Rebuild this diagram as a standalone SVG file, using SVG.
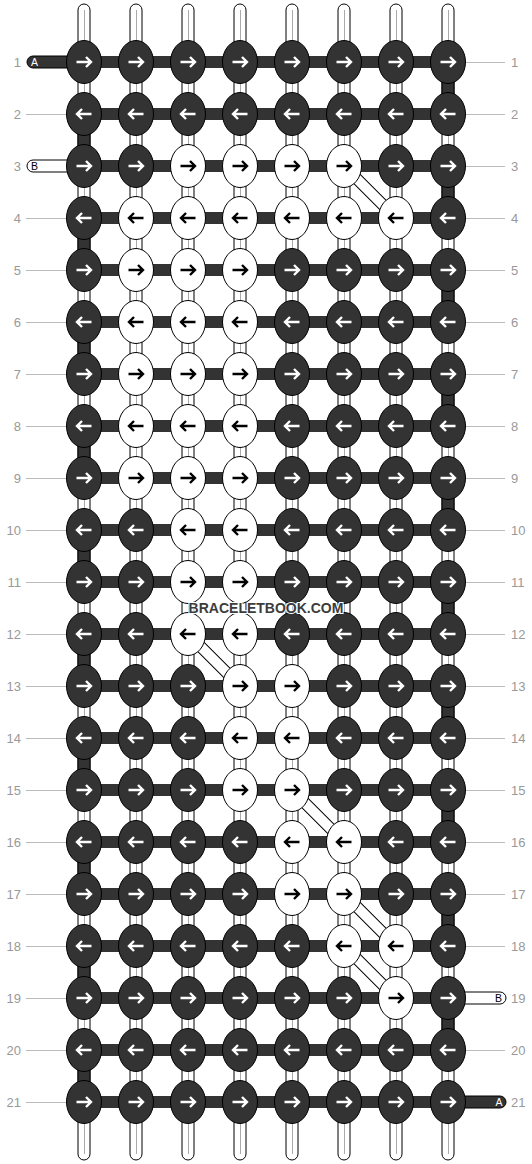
<svg xmlns="http://www.w3.org/2000/svg" xmlns:xlink="http://www.w3.org/1999/xlink" width="532" height="1164" viewBox="0 0 532 1164">
<style>
.str{fill:#fff;stroke:#000;stroke-width:1}
.mid{stroke:#aaa;stroke-width:1;fill:none}
.dk{fill:#333;stroke:#000;stroke-width:1}
.bar{fill:#333}
.kd{fill:#333;stroke:#000;stroke-width:1}
.kw{fill:#fff;stroke:#000;stroke-width:1}
.aw{fill:none;stroke:#fff;stroke-width:2.4}
.ab{fill:none;stroke:#000;stroke-width:2.4}
.lbl{font-family:"Liberation Sans",Arial,sans-serif;font-size:13px;fill:#999}
.gl{stroke:#bbb;stroke-width:1;fill:none}
.sl{font-family:"Liberation Sans",Arial,sans-serif;font-size:10.5px;text-anchor:middle}
.dg1{stroke:#000;stroke-width:12;fill:none}
.dg2{stroke:#fff;stroke-width:10;fill:none}
.wm{font-family:"Liberation Sans",Arial,sans-serif;font-size:14px;font-weight:bold;fill:#3c3c3c;stroke:#fff;stroke-width:2;paint-order:stroke;text-anchor:middle}
</style>
<defs>
<g id="dR"><ellipse class="kd" rx="17.5" ry="21.5"/><path class="aw" d="M-7.5,0H6M2,-5L7,0L2,5"/></g>
<g id="dL"><ellipse class="kd" rx="17.5" ry="21.5"/><path class="aw" d="M7.5,0H-6M-2,-5L-7,0L-2,5"/></g>
<g id="wR"><ellipse class="kw" rx="17.5" ry="21.5"/><path class="ab" d="M-7.5,0H6M2,-5L7,0L2,5"/></g>
<g id="wL"><ellipse class="kw" rx="17.5" ry="21.5"/><path class="ab" d="M7.5,0H-6M-2,-5L-7,0L-2,5"/></g>
</defs>
<rect width="532" height="1164" fill="#fff"/>
<g id="labels">
<g class="lbl" text-anchor="end">
<text x="21" y="66.5">1</text><text x="21" y="118.5">2</text><text x="21" y="170.5">3</text><text x="21" y="222.5">4</text><text x="21" y="274.5">5</text><text x="21" y="326.5">6</text><text x="21" y="378.5">7</text><text x="21" y="430.5">8</text><text x="21" y="482.5">9</text><text x="21" y="534.5">10</text><text x="21" y="586.5">11</text><text x="21" y="638.5">12</text><text x="21" y="690.5">13</text><text x="21" y="742.5">14</text><text x="21" y="794.5">15</text><text x="21" y="846.5">16</text><text x="21" y="898.5">17</text><text x="21" y="950.5">18</text><text x="21" y="1002.5">19</text><text x="21" y="1054.5">20</text><text x="21" y="1106.5">21</text>
</g>
<g class="lbl">
<text x="511" y="66.5">1</text><text x="511" y="118.5">2</text><text x="511" y="170.5">3</text><text x="511" y="222.5">4</text><text x="511" y="274.5">5</text><text x="511" y="326.5">6</text><text x="511" y="378.5">7</text><text x="511" y="430.5">8</text><text x="511" y="482.5">9</text><text x="511" y="534.5">10</text><text x="511" y="586.5">11</text><text x="511" y="638.5">12</text><text x="511" y="690.5">13</text><text x="511" y="742.5">14</text><text x="511" y="794.5">15</text><text x="511" y="846.5">16</text><text x="511" y="898.5">17</text><text x="511" y="950.5">18</text><text x="511" y="1002.5">19</text><text x="511" y="1054.5">20</text><text x="511" y="1106.5">21</text>
</g>
<path class="gl" d="M26,114.5H67M26,218.5H67M26,270.5H67M26,322.5H67M26,374.5H67M26,426.5H67M26,478.5H67M26,530.5H67M26,582.5H67M26,634.5H67M26,686.5H67M26,738.5H67M26,790.5H67M26,842.5H67M26,894.5H67M26,946.5H67M26,998.5H67M26,1050.5H67M26,1102.5H67"/>
<path class="gl" d="M466,62.5H505M466,114.5H505M466,166.5H505M466,218.5H505M466,270.5H505M466,322.5H505M466,374.5H505M466,426.5H505M466,478.5H505M466,530.5H505M466,582.5H505M466,634.5H505M466,686.5H505M466,738.5H505M466,790.5H505M466,842.5H505M466,894.5H505M466,946.5H505M466,1050.5H505"/>
</g>
<g id="connectors">
<g id="vertical-strings">
<rect class="str" x="78" y="4" width="12" height="1156" rx="6"/>
<rect class="str" x="130" y="4" width="12" height="1156" rx="6"/>
<rect class="str" x="182" y="4" width="12" height="1156" rx="6"/>
<rect class="str" x="234" y="4" width="12" height="1156" rx="6"/>
<rect class="str" x="286" y="4" width="12" height="1156" rx="6"/>
<rect class="str" x="338" y="4" width="12" height="1156" rx="6"/>
<rect class="str" x="390" y="4" width="12" height="1156" rx="6"/>
<rect class="str" x="442" y="4" width="12" height="1156" rx="6"/>
<path class="mid" d="M84.5,10V1154M136.5,10V1154M188.5,10V1154M240.5,10V1154M292.5,10V1154M344.5,10V1154M396.5,10V1154M448.5,10V1154"/>
</g>
<g id="edge-segments">
<rect class="dk" x="78" y="130" width="12" height="20"/>
<rect class="dk" x="78" y="234" width="12" height="20"/>
<rect class="dk" x="78" y="338" width="12" height="20"/>
<rect class="dk" x="78" y="442" width="12" height="20"/>
<rect class="dk" x="78" y="546" width="12" height="20"/>
<rect class="dk" x="78" y="650" width="12" height="20"/>
<rect class="dk" x="78" y="754" width="12" height="20"/>
<rect class="dk" x="78" y="858" width="12" height="20"/>
<rect class="dk" x="78" y="962" width="12" height="20"/>
<rect class="dk" x="78" y="1066" width="12" height="20"/>
<rect class="dk" x="442" y="78" width="12" height="20"/>
<rect class="dk" x="442" y="182" width="12" height="20"/>
<rect class="dk" x="442" y="286" width="12" height="20"/>
<rect class="dk" x="442" y="390" width="12" height="20"/>
<rect class="dk" x="442" y="494" width="12" height="20"/>
<rect class="dk" x="442" y="598" width="12" height="20"/>
<rect class="dk" x="442" y="702" width="12" height="20"/>
<rect class="dk" x="442" y="806" width="12" height="20"/>
<rect class="dk" x="442" y="910" width="12" height="20"/>
<rect class="dk" x="442" y="1014" width="12" height="20"/>
</g>
<g id="diagonals">
<path class="dg1" d="M344,166L396,218M188,634L240,686M292,790L344,842M344,894L396,946M344,946L396,998"/>
<path class="dg2" d="M344,166L396,218M188,634L240,686M292,790L344,842M344,894L396,946M344,946L396,998"/>
</g>
<g id="horizontal-strings">
<rect class="dk" x="27" y="56" width="60" height="12" rx="6"/>
<rect class="str" x="27" y="160" width="60" height="12" rx="6"/>
<rect class="str" x="445" y="992" width="61" height="12" rx="6"/>
<rect class="dk" x="445" y="1096" width="61" height="12" rx="6"/>
<text class="sl" x="34.5" y="65.7" fill="#fff">A</text>
<text class="sl" x="34.5" y="169.7" fill="#000">B</text>
<text class="sl" x="498.5" y="1001.7" fill="#000">B</text>
<text class="sl" x="499" y="1105.7" fill="#fff">A</text>
<rect class="bar" x="84" y="56" width="364" height="12"/>
<rect class="bar" x="84" y="108" width="364" height="12"/>
<rect class="bar" x="84" y="160" width="364" height="12"/>
<rect class="bar" x="84" y="212" width="364" height="12"/>
<rect class="bar" x="84" y="264" width="364" height="12"/>
<rect class="bar" x="84" y="316" width="364" height="12"/>
<rect class="bar" x="84" y="368" width="364" height="12"/>
<rect class="bar" x="84" y="420" width="364" height="12"/>
<rect class="bar" x="84" y="472" width="364" height="12"/>
<rect class="bar" x="84" y="524" width="364" height="12"/>
<rect class="bar" x="84" y="576" width="364" height="12"/>
<rect class="bar" x="84" y="628" width="364" height="12"/>
<rect class="bar" x="84" y="680" width="364" height="12"/>
<rect class="bar" x="84" y="732" width="364" height="12"/>
<rect class="bar" x="84" y="784" width="364" height="12"/>
<rect class="bar" x="84" y="836" width="364" height="12"/>
<rect class="bar" x="84" y="888" width="364" height="12"/>
<rect class="bar" x="84" y="940" width="364" height="12"/>
<rect class="bar" x="84" y="992" width="364" height="12"/>
<rect class="bar" x="84" y="1044" width="364" height="12"/>
<rect class="bar" x="84" y="1096" width="364" height="12"/>
</g>
</g>
<g id="knots">
<g id="k1-1"><use href="#dR" x="84" y="62"/></g><g id="k1-2"><use href="#dR" x="136" y="62"/></g><g id="k1-3"><use href="#dR" x="188" y="62"/></g><g id="k1-4"><use href="#dR" x="240" y="62"/></g><g id="k1-5"><use href="#dR" x="292" y="62"/></g><g id="k1-6"><use href="#dR" x="344" y="62"/></g><g id="k1-7"><use href="#dR" x="396" y="62"/></g><g id="k1-8"><use href="#dR" x="448" y="62"/></g>
<g id="k2-1"><use href="#dL" x="84" y="114"/></g><g id="k2-2"><use href="#dL" x="136" y="114"/></g><g id="k2-3"><use href="#dL" x="188" y="114"/></g><g id="k2-4"><use href="#dL" x="240" y="114"/></g><g id="k2-5"><use href="#dL" x="292" y="114"/></g><g id="k2-6"><use href="#dL" x="344" y="114"/></g><g id="k2-7"><use href="#dL" x="396" y="114"/></g><g id="k2-8"><use href="#dL" x="448" y="114"/></g>
<g id="k3-1"><use href="#dR" x="84" y="166"/></g><g id="k3-2"><use href="#dR" x="136" y="166"/></g><g id="k3-3"><use href="#wR" x="188" y="166"/></g><g id="k3-4"><use href="#wR" x="240" y="166"/></g><g id="k3-5"><use href="#wR" x="292" y="166"/></g><g id="k3-6"><use href="#wR" x="344" y="166"/></g><g id="k3-7"><use href="#dR" x="396" y="166"/></g><g id="k3-8"><use href="#dR" x="448" y="166"/></g>
<g id="k4-1"><use href="#dL" x="84" y="218"/></g><g id="k4-2"><use href="#wL" x="136" y="218"/></g><g id="k4-3"><use href="#wL" x="188" y="218"/></g><g id="k4-4"><use href="#wL" x="240" y="218"/></g><g id="k4-5"><use href="#wL" x="292" y="218"/></g><g id="k4-6"><use href="#wL" x="344" y="218"/></g><g id="k4-7"><use href="#wL" x="396" y="218"/></g><g id="k4-8"><use href="#dL" x="448" y="218"/></g>
<g id="k5-1"><use href="#dR" x="84" y="270"/></g><g id="k5-2"><use href="#wR" x="136" y="270"/></g><g id="k5-3"><use href="#wR" x="188" y="270"/></g><g id="k5-4"><use href="#wR" x="240" y="270"/></g><g id="k5-5"><use href="#dR" x="292" y="270"/></g><g id="k5-6"><use href="#dR" x="344" y="270"/></g><g id="k5-7"><use href="#dR" x="396" y="270"/></g><g id="k5-8"><use href="#dR" x="448" y="270"/></g>
<g id="k6-1"><use href="#dL" x="84" y="322"/></g><g id="k6-2"><use href="#wL" x="136" y="322"/></g><g id="k6-3"><use href="#wL" x="188" y="322"/></g><g id="k6-4"><use href="#wL" x="240" y="322"/></g><g id="k6-5"><use href="#dL" x="292" y="322"/></g><g id="k6-6"><use href="#dL" x="344" y="322"/></g><g id="k6-7"><use href="#dL" x="396" y="322"/></g><g id="k6-8"><use href="#dL" x="448" y="322"/></g>
<g id="k7-1"><use href="#dR" x="84" y="374"/></g><g id="k7-2"><use href="#wR" x="136" y="374"/></g><g id="k7-3"><use href="#wR" x="188" y="374"/></g><g id="k7-4"><use href="#wR" x="240" y="374"/></g><g id="k7-5"><use href="#dR" x="292" y="374"/></g><g id="k7-6"><use href="#dR" x="344" y="374"/></g><g id="k7-7"><use href="#dR" x="396" y="374"/></g><g id="k7-8"><use href="#dR" x="448" y="374"/></g>
<g id="k8-1"><use href="#dL" x="84" y="426"/></g><g id="k8-2"><use href="#wL" x="136" y="426"/></g><g id="k8-3"><use href="#wL" x="188" y="426"/></g><g id="k8-4"><use href="#wL" x="240" y="426"/></g><g id="k8-5"><use href="#dL" x="292" y="426"/></g><g id="k8-6"><use href="#dL" x="344" y="426"/></g><g id="k8-7"><use href="#dL" x="396" y="426"/></g><g id="k8-8"><use href="#dL" x="448" y="426"/></g>
<g id="k9-1"><use href="#dR" x="84" y="478"/></g><g id="k9-2"><use href="#wR" x="136" y="478"/></g><g id="k9-3"><use href="#wR" x="188" y="478"/></g><g id="k9-4"><use href="#wR" x="240" y="478"/></g><g id="k9-5"><use href="#dR" x="292" y="478"/></g><g id="k9-6"><use href="#dR" x="344" y="478"/></g><g id="k9-7"><use href="#dR" x="396" y="478"/></g><g id="k9-8"><use href="#dR" x="448" y="478"/></g>
<g id="k10-1"><use href="#dL" x="84" y="530"/></g><g id="k10-2"><use href="#dL" x="136" y="530"/></g><g id="k10-3"><use href="#wL" x="188" y="530"/></g><g id="k10-4"><use href="#wL" x="240" y="530"/></g><g id="k10-5"><use href="#dL" x="292" y="530"/></g><g id="k10-6"><use href="#dL" x="344" y="530"/></g><g id="k10-7"><use href="#dL" x="396" y="530"/></g><g id="k10-8"><use href="#dL" x="448" y="530"/></g>
<g id="k11-1"><use href="#dR" x="84" y="582"/></g><g id="k11-2"><use href="#dR" x="136" y="582"/></g><g id="k11-3"><use href="#wR" x="188" y="582"/></g><g id="k11-4"><use href="#wR" x="240" y="582"/></g><g id="k11-5"><use href="#dR" x="292" y="582"/></g><g id="k11-6"><use href="#dR" x="344" y="582"/></g><g id="k11-7"><use href="#dR" x="396" y="582"/></g><g id="k11-8"><use href="#dR" x="448" y="582"/></g>
<g id="k12-1"><use href="#dL" x="84" y="634"/></g><g id="k12-2"><use href="#dL" x="136" y="634"/></g><g id="k12-3"><use href="#wL" x="188" y="634"/></g><g id="k12-4"><use href="#wL" x="240" y="634"/></g><g id="k12-5"><use href="#dL" x="292" y="634"/></g><g id="k12-6"><use href="#dL" x="344" y="634"/></g><g id="k12-7"><use href="#dL" x="396" y="634"/></g><g id="k12-8"><use href="#dL" x="448" y="634"/></g>
<g id="k13-1"><use href="#dR" x="84" y="686"/></g><g id="k13-2"><use href="#dR" x="136" y="686"/></g><g id="k13-3"><use href="#dR" x="188" y="686"/></g><g id="k13-4"><use href="#wR" x="240" y="686"/></g><g id="k13-5"><use href="#wR" x="292" y="686"/></g><g id="k13-6"><use href="#dR" x="344" y="686"/></g><g id="k13-7"><use href="#dR" x="396" y="686"/></g><g id="k13-8"><use href="#dR" x="448" y="686"/></g>
<g id="k14-1"><use href="#dL" x="84" y="738"/></g><g id="k14-2"><use href="#dL" x="136" y="738"/></g><g id="k14-3"><use href="#dL" x="188" y="738"/></g><g id="k14-4"><use href="#wL" x="240" y="738"/></g><g id="k14-5"><use href="#wL" x="292" y="738"/></g><g id="k14-6"><use href="#dL" x="344" y="738"/></g><g id="k14-7"><use href="#dL" x="396" y="738"/></g><g id="k14-8"><use href="#dL" x="448" y="738"/></g>
<g id="k15-1"><use href="#dR" x="84" y="790"/></g><g id="k15-2"><use href="#dR" x="136" y="790"/></g><g id="k15-3"><use href="#dR" x="188" y="790"/></g><g id="k15-4"><use href="#wR" x="240" y="790"/></g><g id="k15-5"><use href="#wR" x="292" y="790"/></g><g id="k15-6"><use href="#dR" x="344" y="790"/></g><g id="k15-7"><use href="#dR" x="396" y="790"/></g><g id="k15-8"><use href="#dR" x="448" y="790"/></g>
<g id="k16-1"><use href="#dL" x="84" y="842"/></g><g id="k16-2"><use href="#dL" x="136" y="842"/></g><g id="k16-3"><use href="#dL" x="188" y="842"/></g><g id="k16-4"><use href="#dL" x="240" y="842"/></g><g id="k16-5"><use href="#wL" x="292" y="842"/></g><g id="k16-6"><use href="#wL" x="344" y="842"/></g><g id="k16-7"><use href="#dL" x="396" y="842"/></g><g id="k16-8"><use href="#dL" x="448" y="842"/></g>
<g id="k17-1"><use href="#dR" x="84" y="894"/></g><g id="k17-2"><use href="#dR" x="136" y="894"/></g><g id="k17-3"><use href="#dR" x="188" y="894"/></g><g id="k17-4"><use href="#dR" x="240" y="894"/></g><g id="k17-5"><use href="#wR" x="292" y="894"/></g><g id="k17-6"><use href="#wR" x="344" y="894"/></g><g id="k17-7"><use href="#dR" x="396" y="894"/></g><g id="k17-8"><use href="#dR" x="448" y="894"/></g>
<g id="k18-1"><use href="#dL" x="84" y="946"/></g><g id="k18-2"><use href="#dL" x="136" y="946"/></g><g id="k18-3"><use href="#dL" x="188" y="946"/></g><g id="k18-4"><use href="#dL" x="240" y="946"/></g><g id="k18-5"><use href="#dL" x="292" y="946"/></g><g id="k18-6"><use href="#wL" x="344" y="946"/></g><g id="k18-7"><use href="#wL" x="396" y="946"/></g><g id="k18-8"><use href="#dL" x="448" y="946"/></g>
<g id="k19-1"><use href="#dR" x="84" y="998"/></g><g id="k19-2"><use href="#dR" x="136" y="998"/></g><g id="k19-3"><use href="#dR" x="188" y="998"/></g><g id="k19-4"><use href="#dR" x="240" y="998"/></g><g id="k19-5"><use href="#dR" x="292" y="998"/></g><g id="k19-6"><use href="#dR" x="344" y="998"/></g><g id="k19-7"><use href="#wR" x="396" y="998"/></g><g id="k19-8"><use href="#dR" x="448" y="998"/></g>
<g id="k20-1"><use href="#dL" x="84" y="1050"/></g><g id="k20-2"><use href="#dL" x="136" y="1050"/></g><g id="k20-3"><use href="#dL" x="188" y="1050"/></g><g id="k20-4"><use href="#dL" x="240" y="1050"/></g><g id="k20-5"><use href="#dL" x="292" y="1050"/></g><g id="k20-6"><use href="#dL" x="344" y="1050"/></g><g id="k20-7"><use href="#dL" x="396" y="1050"/></g><g id="k20-8"><use href="#dL" x="448" y="1050"/></g>
<g id="k21-1"><use href="#dR" x="84" y="1102"/></g><g id="k21-2"><use href="#dR" x="136" y="1102"/></g><g id="k21-3"><use href="#dR" x="188" y="1102"/></g><g id="k21-4"><use href="#dR" x="240" y="1102"/></g><g id="k21-5"><use href="#dR" x="292" y="1102"/></g><g id="k21-6"><use href="#dR" x="344" y="1102"/></g><g id="k21-7"><use href="#dR" x="396" y="1102"/></g><g id="k21-8"><use href="#dR" x="448" y="1102"/></g>
</g>
<g id="watermark"><text class="wm" x="266" y="613">BRACELETBOOK.COM</text></g>
</svg>
